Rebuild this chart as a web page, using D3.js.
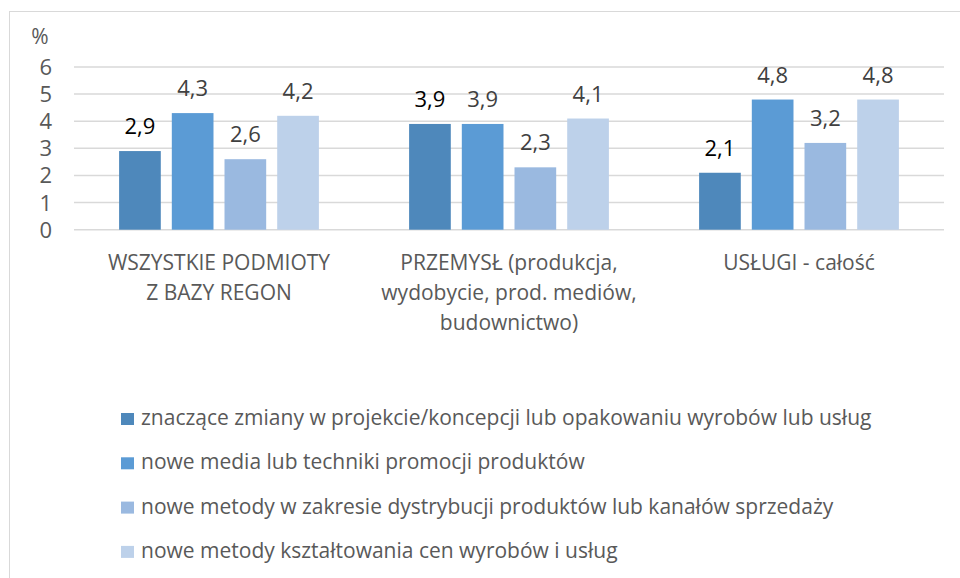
<!DOCTYPE html>
<html>
<head>
<meta charset="utf-8">
<script src="https://cdn.jsdelivr.net/npm/d3@7"></script>
<style>
  body { margin: 0; background: #fff; }
  svg text { font-family: "Open Sans", sans-serif; }
</style>
</head>
<body>
<svg id="chart"></svg>
<script>
var categories = [
    ['WSZYSTKIE PODMIOTY', 'Z BAZY REGON'],
    ['PRZEMYSŁ (produkcja,', 'wydobycie, prod. mediów,', 'budownictwo)'],
    ['USŁUGI - całość']
];
var seriesNames = [
    'znaczące zmiany w projekcie/koncepcji lub opakowaniu wyrobów lub usług',
    'nowe media lub techniki promocji produktów',
    'nowe metody w zakresie dystrybucji produktów lub kanałów sprzedaży',
    'nowe metody kształtowania cen wyrobów i usług'
];
var values = [
    [2.9, 4.3, 2.6, 4.2],
    [3.9, 3.9, 2.3, 4.1],
    [2.1, 4.8, 3.2, 4.8]
];
var yTicks = [0, 1, 2, 3, 4, 5, 6];
var colors = ['#4e88bb', '#5b9bd5', '#9ab9e0', '#bdd1ea'];
var labelColors = ['#000000', '#404040', '#404040', '#404040'];

var width = 960, height = 578;
var svg = d3.select('#chart').attr('width', width).attr('height', height);

// frame (only top and left edges fall inside the picture)
svg.append('rect')
    .attr('x', 9.5).attr('y', 11.5)
    .attr('width', 980).attr('height', 600)
    .attr('fill', 'none')
    .attr('stroke', '#d9d9d9');

var catIdx = d3.range(categories.length);
var x0 = d3.scaleBand().domain(catIdx).range([74, 944]);
var x1 = d3.scaleBand().domain(d3.range(seriesNames.length))
    .range([0, x0.bandwidth()])
    .paddingInner(0.209).paddingOuter(0.856);
var y = d3.scaleLinear().domain([0, 6]).range([229.7, 67]);

// gridlines
svg.append('g').selectAll('line')
    .data(yTicks)
    .enter().append('line')
    .attr('x1', 74).attr('x2', 944)
    .attr('y1', function(d) { return y(d); })
    .attr('y2', function(d) { return y(d); })
    .attr('stroke', '#d9d9d9')
    .attr('stroke-width', 1.5);

// y tick labels
svg.append('g').selectAll('text')
    .data(yTicks)
    .enter().append('text')
    .attr('x', 52)
    .attr('y', function(d) { return y(d) + 8; })
    .attr('text-anchor', 'end')
    .attr('font-size', 22)
    .attr('fill', '#595959')
    .text(function(d) { return d; });

svg.append('text')
    .attr('x', 40).attr('y', 44)
    .attr('text-anchor', 'middle')
    .attr('font-size', 21)
    .attr('fill', '#595959')
    .text('%');

// bars
var groups = svg.append('g').selectAll('g')
    .data(values)
    .enter().append('g')
    .attr('transform', function(d, i) { return 'translate(' + x0(i) + ',0)'; });

groups.selectAll('rect')
    .data(function(d) { return d; })
    .enter().append('rect')
    .attr('x', function(d, i) { return x1(i); })
    .attr('y', function(d) { return y(d); })
    .attr('width', x1.bandwidth())
    .attr('height', function(d) { return y(0) - y(d); })
    .attr('fill', function(d, i) { return colors[i]; });

groups.selectAll('text')
    .data(function(d) { return d; })
    .enter().append('text')
    .attr('x', function(d, i) { return x1(i) + x1.bandwidth() / 2; })
    .attr('y', function(d) { return y(d) - 17; })
    .attr('text-anchor', 'middle')
    .attr('font-size', 22)
    .attr('fill', function(d, i) { return labelColors[i]; })
    .text(function(d) { return String(d).replace('.', ','); });

// category labels
var catLabels = svg.append('g').selectAll('text')
    .data(categories)
    .enter().append('text')
    .attr('x', function(d, i) { return x0(i) + x0.bandwidth() / 2; })
    .attr('y', 270)
    .attr('text-anchor', 'middle')
    .attr('font-size', 21)
    .attr('fill', '#595959');
catLabels.selectAll('tspan')
    .data(function(d) { return d; })
    .enter().append('tspan')
    .attr('x', function() { return d3.select(this.parentNode).attr('x'); })
    .attr('dy', function(d, i) { return i === 0 ? 0 : 30; })
    .text(function(d) { return d; });

// legend
var legend = svg.append('g').selectAll('g')
    .data(seriesNames)
    .enter().append('g')
    .attr('transform', function(d, i) { return 'translate(121,' + (419 + i * 44.3) + ')'; });
legend.append('rect')
    .attr('x', 0).attr('y', -6)
    .attr('width', 13).attr('height', 12)
    .attr('fill', function(d, i) { return colors[i]; });
legend.append('text')
    .attr('x', 20)
    .attr('y', 6)
    .attr('font-size', 21)
    .attr('fill', '#595959')
    .text(function(d) { return d; });
</script>
</body>
</html>
